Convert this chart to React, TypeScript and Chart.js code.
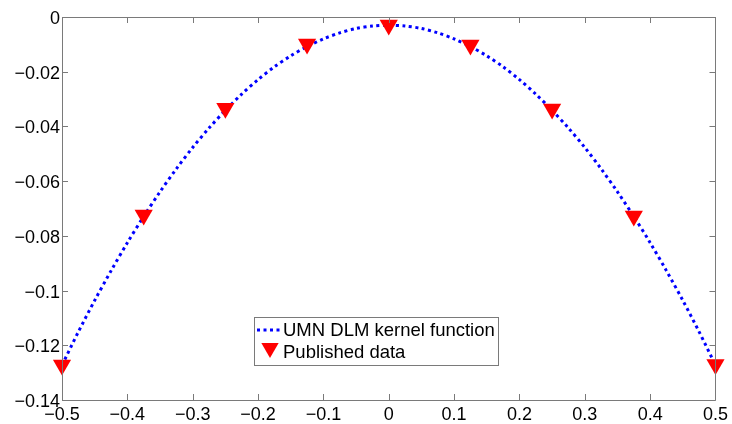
import React, { useEffect, useRef } from "react";
import { Chart, registerables } from "chart.js";

Chart.register(...registerables);

const curveX = [
  -0.5, -0.475, -0.45, -0.425, -0.4, -0.375, -0.35, -0.325, -0.3, -0.275, -0.25,
  -0.225, -0.2, -0.175, -0.15, -0.125, -0.1, -0.075, -0.05, -0.025, 0,
  0.025, 0.05, 0.075, 0.1, 0.125, 0.15, 0.175, 0.2, 0.225, 0.25,
  0.275, 0.3, 0.325, 0.35, 0.375, 0.4, 0.425, 0.45, 0.475, 0.5,
];
const curveY = [
  -0.1273, -0.1151, -0.1036, -0.0928, -0.0825, -0.0729, -0.0639, -0.0555, -0.0477, -0.0406, -0.0341,
  -0.0282, -0.0229, -0.0182, -0.0142, -0.0108, -0.008, -0.0058, -0.0042, -0.0033, -0.003,
  -0.0033, -0.0042, -0.0058, -0.008, -0.0108, -0.0142, -0.0182, -0.0229, -0.0282, -0.0341,
  -0.0406, -0.0477, -0.0555, -0.0639, -0.0729, -0.0825, -0.0928, -0.1036, -0.1151, -0.1273,
];
const pubX = [-0.5, -0.375, -0.25, -0.125, 0, 0.125, 0.25, 0.375, 0.5];
const pubY = [-0.1272, -0.0724, -0.0334, -0.0099, -0.0029, -0.0102, -0.0336, -0.0727, -0.127];

const xTicks = [-0.5, -0.4, -0.3, -0.2, -0.1, 0, 0.1, 0.2, 0.3, 0.4, 0.5];
const yTicks = [-0.14, -0.12, -0.1, -0.08, -0.06, -0.04, -0.02, 0];

const curveLabel = "UMN DLM kernel function";
const pubLabel = "Published data";

const FONT = "'Liberation Sans', Arial, Helvetica, sans-serif";
const AXIS_COLOR = "#7a7a7a";

function fmt(v: number): string {
  const r = Math.round(v * 10000) / 10000;
  if (r === 0) return "0";
  return String(r).replace("-", "\u2212");
}

const framePlugin = {
  id: "matlabFrame",
  afterDraw(chart: any) {
    const { ctx, chartArea } = chart;
    const { left, right, top, bottom } = chartArea;
    const xs = chart.scales.x;
    const ys = chart.scales.y;
    ctx.save();
    ctx.strokeStyle = AXIS_COLOR;
    ctx.lineWidth = 1;
    ctx.setLineDash([]);
    ctx.beginPath();
    ctx.rect(Math.round(left) + 0.5, Math.round(top) + 0.5, Math.round(right - left), Math.round(bottom - top));
    ctx.stroke();
    const tl = 6;
    ctx.beginPath();
    xTicks.forEach((v) => {
      const px = Math.round(xs.getPixelForValue(v)) + 0.5;
      ctx.moveTo(px, bottom);
      ctx.lineTo(px, bottom - tl);
      ctx.moveTo(px, top);
      ctx.lineTo(px, top + tl);
    });
    yTicks.forEach((v) => {
      const py = Math.round(ys.getPixelForValue(v)) + 0.5;
      ctx.moveTo(left, py);
      ctx.lineTo(left + tl, py);
      ctx.moveTo(right, py);
      ctx.lineTo(right - tl, py);
    });
    ctx.stroke();

    // legend
    const lx = 254.5, ly = 317.5, lw = 244, lh = 48;
    ctx.fillStyle = "#ffffff";
    ctx.fillRect(lx, ly, lw, lh);
    ctx.strokeStyle = AXIS_COLOR;
    ctx.strokeRect(lx, ly, lw, lh);
    const row1 = 330, row2 = 352;
    ctx.strokeStyle = "#0000ff";
    ctx.lineWidth = 3;
    ctx.setLineDash([3, 3.5]);
    ctx.beginPath();
    ctx.moveTo(257, row1);
    ctx.lineTo(283, row1);
    ctx.stroke();
    ctx.setLineDash([]);
    // triangle marker
    const cx = 270, cy = 348, r = 10;
    ctx.fillStyle = "#ff0000";
    ctx.beginPath();
    ctx.moveTo(cx, cy + r);
    ctx.lineTo(cx - r * Math.sqrt(3) / 2, cy - r / 2);
    ctx.lineTo(cx + r * Math.sqrt(3) / 2, cy - r / 2);
    ctx.closePath();
    ctx.fill();
    ctx.fillStyle = "#000000";
    ctx.font = `18.5px ${FONT}`;
    ctx.textBaseline = "middle";
    ctx.textAlign = "left";
    ctx.fillText(curveLabel, 283, row1 + 1);
    ctx.fillText(pubLabel, 283, row2 + 1);
    ctx.restore();
  },
};

export default function App() {
  const ref = useRef<HTMLCanvasElement | null>(null);
  useEffect(() => {
    if (!ref.current) return;
    const chart = new Chart(ref.current, {
      type: "scatter",
      data: {
        datasets: [
          {
            label: pubLabel,
            data: pubX.map((x, i) => ({ x, y: pubY[i] })),
            pointStyle: "triangle",
            rotation: 180,
            pointRadius: 10.5,
            pointHoverRadius: 10.5,
            backgroundColor: "#ff0000",
            borderColor: "#ff0000",
            borderWidth: 0,
            showLine: false,
            clip: false,
            order: 0,
          },
          {
            label: curveLabel,
            data: curveX.map((x, i) => ({ x, y: curveY[i] })),
            showLine: true,
            borderColor: "#0000ff",
            borderWidth: 3,
            borderDash: [3, 3.5],
            pointRadius: 0,
            tension: 0.3,
            fill: false,
            clip: false,
            order: 1,
          },
        ],
      } as any,
      options: {
        animation: false,
        responsive: false,
        maintainAspectRatio: false,
        layout: { padding: { left: 0, right: 16, top: 17, bottom: 0 } },
        plugins: { legend: { display: false }, tooltip: { enabled: false } },
        scales: {
          x: {
            type: "linear",
            min: -0.5,
            max: 0.5,
            afterFit: (s: any) => { s.height = 24; },
            afterBuildTicks: (s: any) => { s.ticks = xTicks.map((v) => ({ value: v })); },
            grid: { display: false, drawTicks: false },
            border: { display: false },
            ticks: {
              padding: 4,
              color: "#000",
              font: { family: FONT, size: 18 },
              maxRotation: 0,
              autoSkip: false,
              callback: (v: any) => fmt(Number(v)),
            },
          },
          y: {
            type: "linear",
            min: -0.14,
            max: 0,
            afterFit: (s: any) => { s.width = 62; },
            afterBuildTicks: (s: any) => { s.ticks = yTicks.map((v) => ({ value: v })); },
            grid: { display: false, drawTicks: false },
            border: { display: false },
            ticks: {
              padding: 2,
              labelOffset: 2,
              color: "#000",
              font: { family: FONT, size: 18 },
              autoSkip: false,
              callback: (v: any) => fmt(Number(v)),
            },
          },
        },
      } as any,
      plugins: [framePlugin],
    });
    return () => chart.destroy();
  }, []);
  return (
    <div style={{ position: "fixed", left: 0, top: 0, width: 732, height: 424, background: "#fff" }}>
      <canvas ref={ref} width={732} height={424} style={{ display: "block" }} />
    </div>
  );
}
